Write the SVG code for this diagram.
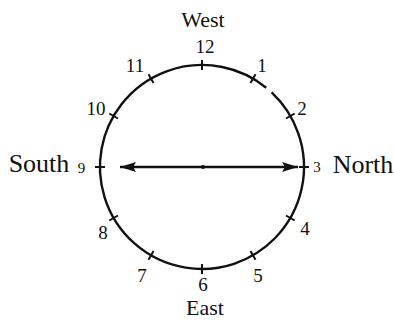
<svg xmlns="http://www.w3.org/2000/svg" width="394" height="321" viewBox="0 0 394 321">
<style>
text{font-family:"Liberation Serif","Times New Roman",serif;fill:#111;text-anchor:middle}
.num{font-size:19px}
.sm{font-size:15px}
.dir{font-size:22px}
.dir2{font-size:26px}
.ln{stroke:#111;stroke-width:2.4;fill:none}
.tk{stroke:#111;stroke-width:2}
</style>
<defs>
<marker id="ah" markerUnits="userSpaceOnUse" markerWidth="17" markerHeight="11" refX="16" refY="5" orient="auto-start-reverse">
<path d="M0,0 L16,5 L0,10 L3,5 z" fill="#111"/>
</marker>
</defs>
<rect width="394" height="321" fill="#fff"/>
<g id="clock">
<path class="ln" d="M271.6 92.4 A102 102 0 1 1 266.2 87.7"/>
<g id="ticks" class="tk">
<line x1="202" y1="70" x2="202" y2="60"/>
<line x1="250.5" y1="83" x2="255.5" y2="74.3"/>
<line x1="286" y1="118.5" x2="294.7" y2="113.5"/>
<line x1="299" y1="167" x2="309" y2="167"/>
<line x1="286" y1="215.5" x2="294.7" y2="220.5"/>
<line x1="250.5" y1="251" x2="255.5" y2="259.7"/>
<line x1="202" y1="264" x2="202" y2="274"/>
<line x1="153.5" y1="251" x2="148.5" y2="259.7"/>
<line x1="118" y1="215.5" x2="109.3" y2="220.5"/>
<line x1="105" y1="167" x2="95" y2="167"/>
<line x1="118" y1="118.5" x2="109.3" y2="113.5"/>
<line x1="153.5" y1="83" x2="148.5" y2="74.3"/>
</g>
<circle cx="203" cy="167" r="2" fill="#111"/>
</g>
<g id="connectors">
<path class="ln" d="M120 167 H298" marker-start="url(#ah)" marker-end="url(#ah)"/>
</g>
<g id="n12"><text class="num" x="205" y="53">12</text></g>
<g id="n1"><text class="num" x="262" y="72">1</text></g>
<g id="n2"><text class="num" x="302" y="115">2</text></g>
<g id="n3"><text class="sm" x="317" y="172">3</text></g>
<g id="n4"><text class="num" x="305" y="235">4</text></g>
<g id="n5"><text class="num" x="258" y="282">5</text></g>
<g id="n6"><text class="num" x="203" y="291">6</text></g>
<g id="n7"><text class="num" x="142" y="282">7</text></g>
<g id="n8"><text class="num" x="103" y="239">8</text></g>
<g id="n9"><text class="sm" x="81.5" y="173">9</text></g>
<g id="n10"><text class="num" x="96" y="115">10</text></g>
<g id="n11"><text class="num" x="135" y="72">11</text></g>
<g id="west"><text class="dir" x="203" y="27">West</text></g>
<g id="east"><text class="dir" x="205" y="315">East</text></g>
<g id="south"><text class="dir2" x="39" y="172">South</text></g>
<g id="north"><text class="dir2" x="363" y="173">North</text></g>
</svg>
